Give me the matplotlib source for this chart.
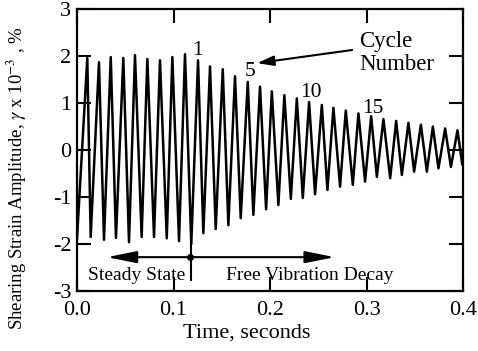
import numpy as np
import matplotlib
matplotlib.use("Agg")
import matplotlib.pyplot as plt

plt.rcParams["font.family"] = ["Liberation Serif", "DejaVu Serif"]
plt.rcParams["mathtext.fontset"] = "stix"
plt.rcParams["axes.unicode_minus"] = False

# peaks and troughs (time in s, strain x 1e-3 %)
peak_t = [0.0107, 0.0228, 0.0350, 0.0480, 0.0601, 0.0729, 0.0860, 0.0988,
          0.1119, 0.1254, 0.1378, 0.1510, 0.1637, 0.1769, 0.1896, 0.2018,
          0.2148, 0.2277, 0.2404, 0.2536, 0.2656, 0.2784, 0.2915, 0.3047,
          0.3174, 0.3306, 0.3433, 0.3562, 0.3686, 0.3813, 0.3941]
peak_v = [1.96, 1.87, 1.98, 1.96, 2.02, 1.94, 1.91, 1.98, 2.04, 1.91,
          1.78, 1.72, 1.57, 1.45, 1.35, 1.25, 1.17, 1.10, 1.02, 0.96,
          0.90, 0.84, 0.78, 0.72, 0.66, 0.62, 0.58, 0.54, 0.50, 0.46, 0.42]
trough_t = [0.0142, 0.0280, 0.0404, 0.0539, 0.0670, 0.0798, 0.0930, 0.1057,
            0.1184, 0.1309, 0.1437, 0.1568, 0.1696, 0.1827, 0.1959, 0.2086,
            0.2215, 0.2339, 0.2466, 0.2594, 0.2725, 0.2857, 0.2984, 0.3106,
            0.3244, 0.3365, 0.3492, 0.3624, 0.3744, 0.3873, 0.3990]
trough_v = [-1.85, -1.91, -1.87, -1.96, -1.85, -1.85, -1.88, -1.94, -2.00,
            -1.77, -1.68, -1.60, -1.45, -1.38, -1.26, -1.17, -1.04, -1.02,
            -0.94, -0.85, -0.78, -0.74, -0.67, -0.57, -0.60, -0.53, -0.46,
            -0.46, -0.39, -0.36, -0.30]
start_t, start_v = 0.0, -1.9

cycle_labels = ["1", "5", "10", "15"]
cycle_t = [0.125, 0.179, 0.242, 0.306]
cycle_y = [2.02, 1.57, 1.13, 0.79]

# interleave peaks and troughs into one trace
t = [start_t]
v = [start_v]
for i in range(len(peak_t)):
    t += [peak_t[i], trough_t[i]]
    v += [peak_v[i], trough_v[i]]

fig = plt.figure(figsize=(4.78, 3.51), dpi=100)
ax = fig.add_axes([0.161, 0.171, 0.808, 0.803])

ax.plot(t, v, color="black", lw=1.8)

ax.set_xlim(0, 0.4)
ax.set_ylim(-3, 3)
ax.set_xticks(np.arange(0, 0.41, 0.1))
ax.set_xticklabels(["0.0", "0.1", "0.2", "0.3", "0.4"])
ax.set_yticks(range(-3, 4))
ax.tick_params(direction="in", length=10, width=1.5, top=True, right=True,
               labelsize=16)
ax.tick_params(axis="x", pad=7)
ax.tick_params(axis="y", pad=4)
for s in ax.spines.values():
    s.set_linewidth(1.6)

ax.set_xlabel("Time, seconds", fontsize=16)
ax.xaxis.set_label_coords(0.44, -0.115)
ax.set_ylabel(r"Shearing Strain Amplitude, $\gamma$ x 10$^{-3}$ , %", fontsize=13.5)
ax.yaxis.set_label_coords(-0.125, 0.40)

for lab, x, y in zip(cycle_labels, cycle_t, cycle_y):
    ax.text(x, y, lab, fontsize=15.5, ha="center", va="baseline")

ax.text(0.292, 2.19, "Cycle", fontsize=16.5, ha="left", va="baseline")
ax.text(0.292, 1.70, "Number", fontsize=16.5, ha="left", va="baseline")
ax.annotate("", xy=(0.1865, 1.85), xytext=(0.285, 2.13),
            arrowprops=dict(arrowstyle="-|>,head_length=1.0,head_width=0.3",
                            color="black", lw=1.5, shrinkA=0, shrinkB=0))

# steady state / free vibration markers
ax.plot([0.118, 0.118], [-1.98, -2.77], color="black", lw=1.5)
ax.plot([0.117], [-2.28], "o", color="black", ms=4)
for tip in (0.031, 0.267):
    ax.annotate("", xy=(tip, -2.28), xytext=(0.117, -2.28),
                arrowprops=dict(arrowstyle="-|>,head_length=1.8,head_width=0.36",
                                color="black", lw=1.5, shrinkA=0, shrinkB=0))
ax.text(0.062, -2.77, "Steady State", fontsize=14, ha="center", va="baseline")
ax.text(0.2415, -2.77, "Free Vibration Decay", fontsize=14, ha="center",
        va="baseline")

fig.savefig("out.png", dpi=100)
